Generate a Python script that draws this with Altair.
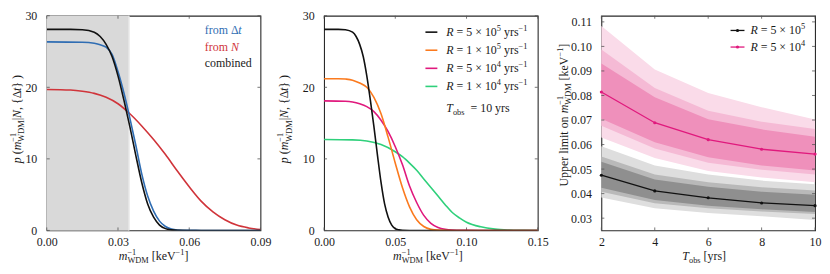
import altair as alt
import pandas as pd

FONT = "Liberation Serif"
INK = "#1a1a1a"
TICK = "#555555"
W, H = 215, 216

# ---------------- panel 1 data ----------------
gray_edge = 0.0346
comb_x = [0, 0.01, 0.015, 0.02, 0.0225, 0.025, 0.0275, 0.03, 0.0325, 0.035, 0.0375, 0.04,
          0.0425, 0.045, 0.0475, 0.05, 0.0525, 0.055, 0.06, 0.09, 0.15]
comb_y = [28.1, 28.1, 28.05, 27.7, 27.1, 26.0, 24.3, 21.6, 18.2, 14.5, 10.5, 6.7,
          3.7, 1.85, 0.75, 0.25, 0.08, 0.02, 0.0, 0.0, 0.0]
dt_x = [0, 0.015, 0.02, 0.0225, 0.025, 0.0275, 0.03, 0.0325, 0.035, 0.0375, 0.04, 0.0425,
        0.045, 0.0475, 0.05, 0.0525, 0.055, 0.06, 0.065, 0.09]
dt_y = [26.35, 26.3, 26.15, 25.95, 25.6, 24.6, 22.2, 19.2, 15.7, 11.9, 7.9, 4.8,
        2.7, 1.3, 0.55, 0.2, 0.07, 0.01, 0.0, 0.0]
n_x = [0, 0.01, 0.015, 0.02, 0.025, 0.03, 0.035, 0.04, 0.045, 0.05, 0.055, 0.06,
       0.065, 0.07, 0.075, 0.08, 0.085, 0.09]
n_y = [19.7, 19.62, 19.45, 19.15, 18.6, 17.7, 16.3, 14.6, 12.7, 10.6, 8.3, 6.1,
       4.1, 2.6, 1.5, 0.75, 0.35, 0.12]

# ---------------- panel 2 data ----------------
r1e5_x = [0, 0.01, 0.015, 0.02, 0.025, 0.03, 0.035, 0.04, 0.045, 0.05, 0.055, 0.06,
          0.065, 0.07, 0.075, 0.08, 0.09, 0.15]
r1e5_y = [21.2, 21.2, 21.15, 21.0, 20.6, 20.0, 18.6, 16.3, 13.0, 9.4, 6.0, 3.3,
          1.5, 0.55, 0.15, 0.04, 0.0, 0.0]
r5e4_x = [0, 0.015, 0.02, 0.025, 0.03, 0.035, 0.04, 0.045, 0.05, 0.055, 0.06, 0.065,
          0.07, 0.075, 0.08, 0.085, 0.09, 0.1, 0.11, 0.15]
r5e4_y = [18.1, 18.05, 17.95, 17.7, 17.3, 16.6, 15.4, 13.8, 11.7, 9.2, 6.2, 3.9,
          2.1, 1.0, 0.42, 0.16, 0.06, 0.02, 0.0, 0.0]
r1e4_x = [0, 0.02, 0.03, 0.04, 0.05, 0.055, 0.06, 0.065, 0.07, 0.075, 0.08, 0.085,
          0.09, 0.095, 0.1, 0.11, 0.12, 0.13, 0.14, 0.15]
r1e4_y = [12.7, 12.65, 12.5, 12.0, 11.0, 10.3, 9.4, 8.4, 7.2, 6.0, 4.8, 3.6,
          2.5, 1.75, 1.15, 0.5, 0.18, 0.06, 0.02, 0.0]
rate_coef = ["5", "1", "5", "1"]
rate_exp = ["5", "5", "4", "4"]
rate_colors = ["#111111", "#fb7a1e", "#e0197d", "#2fd07b"]
t_obs_label = "10 yrs"

# ---------------- panel 3 data ----------------
T_obs = [2, 4, 6, 8, 10]
a_med = [0.0475, 0.0411, 0.0383, 0.0362, 0.0351]          # R = 5e5
a_1lo = [0.0424, 0.0374, 0.0351, 0.0336, 0.0325]
a_1hi = [0.0530, 0.0458, 0.0428, 0.0408, 0.0395]
a_2lo = [0.0408, 0.0361, 0.0340, 0.0327, 0.0317]
a_2hi = [0.0551, 0.0478, 0.0446, 0.0426, 0.0413]
a_3lo = [0.0384, 0.0340, 0.0321, 0.0308, 0.0293]
a_3hi = [0.0593, 0.0515, 0.0478, 0.0453, 0.0438]
b_med = [0.0814, 0.0689, 0.0620, 0.0581, 0.0561]          # R = 5e4
b_1lo = [0.0705, 0.0609, 0.0548, 0.0515, 0.0494]
b_1hi = [0.0930, 0.0793, 0.0703, 0.0662, 0.0632]
b_2lo = [0.0677, 0.0584, 0.0526, 0.0497, 0.0478]
b_2hi = [0.0987, 0.0831, 0.0738, 0.0693, 0.0663]
b_3lo = [0.0629, 0.0545, 0.0492, 0.0466, 0.0446]
b_3hi = [0.1083, 0.0906, 0.0810, 0.0752, 0.0702]

p1_xticks = [0, 0.03, 0.06, 0.09]
p2_xticks = [0, 0.05, 0.10, 0.15]
pdf_yticks = [0, 10, 20, 30]
p3_xticks = [2, 4, 6, 8, 10]
p3_yticks = [0.03, 0.04, 0.05, 0.06, 0.07, 0.08, 0.09, 0.10, 0.11]

# ---------------- rich text helper ----------------
WN = {' ': .25, '.': .25, ',': .25, '[': .333, ']': .333, '(': .333, ')': .333,
      '{': .48, '}': .48, '|': .2, '=': .564, '×': .564, '−': .564, 'Δ': .612,
      'a': .444, 'b': .5, 'c': .444, 'd': .5, 'e': .444, 'f': .333, 'g': .5, 'h': .5,
      'i': .278, 'j': .278, 'k': .5, 'l': .278, 'm': .778, 'n': .5, 'o': .5, 'p': .5,
      'q': .5, 'r': .333, 's': .389, 't': .278, 'u': .5, 'v': .5, 'w': .722, 'x': .5,
      'y': .5, 'z': .444, 'D': .722, 'M': .889, 'N': .722, 'R': .667, 'T': .611,
      'U': .722, 'V': .722, 'W': .944}
WI = {'m': .722, 'N': .667, 'R': .611, 'T': .556}


def tw(s, size, it=False):
    tot = 0
    for c in s:
        if it and c in WI:
            tot += WI[c]
        else:
            tot += WN.get(c, .5)
    return tot * size


def P(t, it=False, sc=1.0, rise=0.0, adv=True):
    return (t, it, sc, rise, adv)


def SUP(t):
    return P(t, False, 0.7, 0.42, True)


def SUPN(t):
    return P(t, False, 0.7, 0.42, False)


def SUB(t):
    return P(t, False, 0.7, -0.28, True)


def rich(pieces, x, y, size=12, angle=0, color=INK, anchor="middle"):
    total = sum(tw(t, size * sc, it) for t, it, sc, r, adv in pieces if adv)
    a = -total / 2 if anchor == "middle" else 0
    rows = []
    for t, it, sc, rise, adv in pieces:
        fs = size * sc
        lead = len(t) - len(t.lstrip())
        aa = a + tw(" " * lead, fs)
        d = -rise * size
        if angle == 0:
            px, py = x + aa, y + d
        else:
            px, py = x + d, y - aa
        if t.strip():
            rows.append(dict(t=t.strip(), px=px, py=py, fs=fs, it=it, ang=angle, col=color))
        if adv:
            a += tw(t, fs, it)
    return rows


def text_layers(rows):
    df = pd.DataFrame(rows)
    out = []
    for it in (False, True):
        sub = df[df["it"] == it]
        if len(sub) == 0:
            continue
        out.append(
            alt.Chart(sub).mark_text(font=FONT, fontStyle="italic" if it else "normal",
                                     align="left", baseline="alphabetic")
            .encode(x=alt.X("px:Q", scale=None), y=alt.Y("py:Q", scale=None),
                    text="t:N", size=alt.Size("fs:Q", scale=None),
                    angle=alt.Angle("ang:Q", scale=None),
                    color=alt.Color("col:N", scale=None))
        )
    return out


def tick_layers(xv, yv, xs, ys, ax, ay):
    dx = pd.DataFrame({"v": xv})
    dy = pd.DataFrame({"v": yv})
    L = 3
    base_x = alt.Chart(dx).mark_rule(color=TICK, strokeWidth=0.8)
    base_y = alt.Chart(dy).mark_rule(color=TICK, strokeWidth=0.8)
    X = alt.X("v:Q", scale=xs, axis=ax)
    Y = alt.Y("v:Q", scale=ys, axis=ay)
    return [
        base_x.encode(x=X, y=alt.value(H), y2=alt.value(H - L)),
        base_x.encode(x=X, y=alt.value(0), y2=alt.value(L)),
        base_y.encode(y=Y, x=alt.value(0), x2=alt.value(L)),
        base_y.encode(y=Y, x=alt.value(W), x2=alt.value(W - L)),
    ]


def xaxis(vals, fmt):
    return alt.Axis(values=vals, format=fmt, title=None, labelPadding=6, labelFlush=False)


def yaxis(vals, fmt):
    return alt.Axis(values=vals, format=fmt, title=None, labelPadding=10, labelFlush=False)


m_pieces = [P("m", True), SUPN("−1"), SUB("WDM")]
mtitle = m_pieces + [P(" [keV"), SUP("−1"), P("]")]
ptitle = [P("p", True), P(" ("), P("m", True), SUPN("−1"), SUB("WDM"), P("|"),
          P("N", True), P(", {"), P("Δ"), P("t", True), P("} )")]

ys12 = alt.Scale(domain=[0, 30], nice=False, zero=True)
AY12 = yaxis(pdf_yticks, "d")
XT = H + 29.5


def curve(xs_, ys_, color, xscale, ax):
    df = pd.DataFrame({"x": xs_, "y": ys_})
    return alt.Chart(df).mark_line(color=color, strokeWidth=1.6, interpolate="monotone",
                                   clip=True).encode(
        x=alt.X("x:Q", scale=xscale, axis=ax),
        y=alt.Y("y:Q", scale=ys12, axis=AY12),
    )


# ---------------- panel 1 ----------------
xs1 = alt.Scale(domain=[0, 0.09], nice=False, zero=False)
AX1 = xaxis(p1_xticks, ".2f")

gray_df = pd.DataFrame({"a": [0], "b": [gray_edge]})
gray = alt.Chart(gray_df).mark_rect(color="#d9d9d9").encode(
    x=alt.X("a:Q", scale=xs1, axis=AX1), x2="b:Q", y=alt.value(0), y2=alt.value(H))
gray_rim = alt.Chart(gray_df).mark_rule(color="#e6e6e6", strokeWidth=1.5).encode(
    x=alt.X("b:Q", scale=xs1, axis=AX1), y=alt.value(0), y2=alt.value(H))

rows1 = []
rows1 += rich(ptitle, -26, H / 2 - 4, angle=270)
rows1 += rich(mtitle, W / 2, XT)
rows1 += rich([P("from "), P("Δ"), P("t", True)], 159, 18, color="#2f6db3", anchor="start")
rows1 += rich([P("from "), P("N", True)], 159, 35, color="#d0343a", anchor="start")
rows1 += rich([P("combined")], 159, 51.5, color=INK, anchor="start")

panel1 = alt.layer(
    gray, gray_rim,
    *tick_layers(p1_xticks, pdf_yticks, xs1, ys12, AX1, AY12),
    curve(n_x, n_y, "#d0343a", xs1, AX1),
    curve(dt_x, dt_y, "#2f6db3", xs1, AX1),
    curve(comb_x, comb_y, "#111111", xs1, AX1),
    *text_layers(rows1),
).properties(width=W, height=H)

# ---------------- panel 2 ----------------
xs2 = alt.Scale(domain=[0, 0.15], nice=False, zero=False)
AX2 = xaxis(p2_xticks, ".2f")
leg_y = [16.5 + 18.2 * i for i in range(4)]
leg2 = pd.DataFrame({"x1": [102] * 4, "x2": [114] * 4, "y": leg_y, "c": rate_colors})
leg2_rules = alt.Chart(leg2).mark_rule(strokeWidth=1.6).encode(
    x=alt.X("x1:Q", scale=None), x2="x2:Q", y=alt.Y("y:Q", scale=None),
    color=alt.Color("c:N", scale=None))

rows2 = []
rows2 += rich(ptitle, -36, H / 2 - 4, angle=270)
rows2 += rich(mtitle, W / 2 - 3, XT)
for i in range(4):
    rows2 += rich([P("R", True), P(" = " + rate_coef[i] + " × 10"), SUP(rate_exp[i]),
                   P(" yrs"), SUP("−1")], 123, leg_y[i] + 4, anchor="start")
rows2 += rich([P("T", True), SUB("obs"), P("  =  " + t_obs_label)], 123, 97, anchor="start")

panel2 = alt.layer(
    *tick_layers(p2_xticks, pdf_yticks, xs2, ys12, AX2, AY12),
    curve(r1e4_x, r1e4_y, rate_colors[3], xs2, AX2),
    curve(r5e4_x, r5e4_y, rate_colors[2], xs2, AX2),
    curve(r1e5_x, r1e5_y, rate_colors[1], xs2, AX2),
    curve(comb_x, comb_y, rate_colors[0], xs2, AX2),
    leg2_rules,
    *text_layers(rows2),
).properties(width=W, height=H)

# ---------------- panel 3 ----------------
xs3 = alt.Scale(domain=[2, 10], nice=False, zero=False)
ys3 = alt.Scale(domain=[0.025, 0.1125], nice=False, zero=False)
AX3 = xaxis(p3_xticks, "d")
AY3 = yaxis(p3_yticks, ".2f")


def band(lo, hi, color):
    df = pd.DataFrame({"T": T_obs, "lo": lo, "hi": hi})
    return alt.Chart(df).mark_area(color=color, opacity=1).encode(
        x=alt.X("T:Q", scale=xs3, axis=AX3), y=alt.Y("lo:Q", scale=ys3, axis=AY3), y2="hi:Q")


def medline(med, color):
    df = pd.DataFrame({"T": T_obs, "m": med})
    return alt.Chart(df).mark_line(color=color, strokeWidth=1.3,
                                   point=alt.OverlayMarkDef(filled=True, size=10, color=color)).encode(
        x=alt.X("T:Q", scale=xs3, axis=AX3),
        y=alt.Y("m:Q", scale=ys3, axis=AY3))


PINK = "#e0197d"
leg3_y = [14.8, 31.5]
leg3 = pd.DataFrame({"x1": [130, 130], "x2": [144, 144], "xm": [137, 137], "y": leg3_y,
                     "c": ["#111111", PINK]})
leg3_rules = alt.Chart(leg3).mark_rule(strokeWidth=1.3).encode(
    x=alt.X("x1:Q", scale=None), x2="x2:Q", y=alt.Y("y:Q", scale=None),
    color=alt.Color("c:N", scale=None))
leg3_pts = alt.Chart(leg3).mark_point(filled=True, size=10, opacity=1).encode(
    x=alt.X("xm:Q", scale=None), y=alt.Y("y:Q", scale=None),
    color=alt.Color("c:N", scale=None))

rows3 = []
rows3 += rich([P("Upper limit on "), P("m", True), SUPN("−1"), SUB("WDM"), P(" [keV"),
               SUP("−1"), P("]")], -34, H / 2 - 8, angle=270)
rows3 += rich([P("T", True), SUB("obs"), P(" [yrs]")], W / 2 - 4, XT)
rows3 += rich([P("R", True), P(" = 5 × 10"), SUP("5")], 150, leg3_y[0] + 4, anchor="start")
rows3 += rich([P("R", True), P(" = 5 × 10"), SUP("4")], 150, leg3_y[1] + 4, anchor="start")

panel3 = alt.layer(
    band(b_3lo, b_3hi, "#fadbe9"),
    band(b_2lo, b_2hi, "#f5bad5"),
    band(b_1lo, b_1hi, "#ef90bb"),
    band(a_3lo, a_3hi, "#dedede"),
    band(a_2lo, a_2hi, "#b9b9b9"),
    band(a_1lo, a_1hi, "#8f8f8f"),
    *tick_layers(p3_xticks, p3_yticks, xs3, ys3, AX3, AY3),
    medline(a_med, "#111111"),
    medline(b_med, PINK),
    leg3_rules, leg3_pts,
    *text_layers(rows3),
).properties(width=W, height=H)

chart = alt.hconcat(panel1, panel2, panel3, spacing=64, bounds="flush").properties(
    padding={"left": 0, "top": 0, "right": 0, "bottom": 0}
).configure_view(stroke="#2a2a2a", strokeWidth=1.1).configure_axis(
    labelFont=FONT, labelFontSize=12, labelColor=INK, ticks=False, domain=False, grid=False)

chart.save("out.html", embed_options={"renderer": "svg", "actions": False})
